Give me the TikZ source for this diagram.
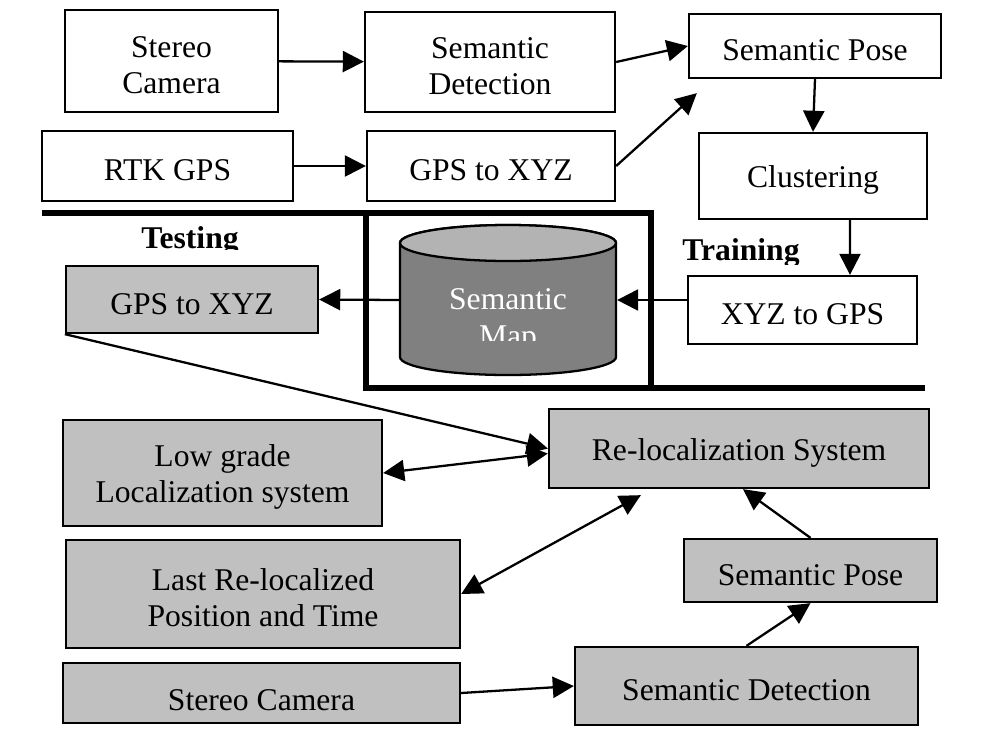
\documentclass[tikz,border=0pt]{standalone}
\usepackage{fontspec}
\setmainfont{Liberation Serif}
\usetikzlibrary{arrows.meta,calc}
\definecolor{boxgray}{HTML}{C0C0C0}
\definecolor{mapbody}{HTML}{808080}
\definecolor{maptop}{HTML}{B3B3B3}

\begin{document}
\begin{tikzpicture}[x=0.2mm, y=-0.2mm, line width=1.3pt,
	>={Triangle[length=12pt,width=12pt]},
	box/.style={draw, rectangle, line width=1.3pt, align=center, font=\fontsize{18}{20.5}\selectfont, text height=17pt},
	twoline/.style={text height=37pt},
	greybox/.style={box, fill=boxgray},
	label/.style={font=\fontsize{18}{20.5}\selectfont\bfseries, anchor=base},
	frame/.style={line width=3.8pt}]
	\useasboundingbox (0,0) rectangle (981,745);

	\node[box, twoline] (cam1) at (171.5,61) [minimum width=42.6mm, minimum height=20.4mm] {Stereo\\Camera};
	\node[box, twoline] (det1) at (490,62) [minimum width=50mm, minimum height=20mm] {Semantic\\Detection};
	\node[box] (pose1) at (815,46) [minimum width=50.4mm, minimum height=12.8mm] {Semantic Pose};
	\node[box] (rtk) at (167.5,166) [minimum width=50.2mm, minimum height=14mm] {RTK GPS};
	\node[box] (gxyz1) at (491,166) [minimum width=49.6mm, minimum height=14mm] {GPS to XYZ};
	\node[box] (clus) at (813,176) [minimum width=45.6mm, minimum height=17.2mm] {Clustering};
	\node[box] (xgps) at (802.5,310) [minimum width=45.8mm, minimum height=13.6mm] {XYZ to GPS};
	\node[greybox] (gxyz2) at (192,299.5) [minimum width=50.4mm, minimum height=13.4mm] {GPS to XYZ};

	\draw[frame] (42,213) -- (651,213) -- (651,388);
	\draw[frame] (366,213) -- (366,388) -- (925,388);

	\node[minimum width=43.2mm, minimum height=30mm] (map) at (508,300) {};
	\draw[fill=mapbody] (400,243) -- (400,357) arc[start angle=180, end angle=360, x radius=21.6mm, y radius=3.6mm] -- (616,243) arc[start angle=0, end angle=180, x radius=21.6mm, y radius=3.6mm];
	\draw[fill=maptop] (508,243) ellipse [x radius=21.6mm, y radius=3.6mm];
	\begin{scope}
		\clip (400,262) rectangle (616,340);
		\node[white, align=center, font=\fontsize{18}{21}\selectfont] (maptext) at (508,321) {Semantic\\Map};
	\end{scope}

	\begin{scope}
		\clip (100,220) rectangle (300,249);
		\node[label] (test) at (190,248) {Testing};
	\end{scope}
	\begin{scope}
		\clip (660,230) rectangle (820,264);
		\node[label] (train) at (741,260) {Training};
	\end{scope}

	\node[greybox] (reloc) at (739,448.5) [minimum width=76mm, minimum height=15.8mm] {Re-localization System};
	\node[greybox, twoline] (low) at (222.5,473) [minimum width=63.8mm, minimum height=21.2mm] {Low grade\\Localization system};
	\node[greybox, twoline] (last) at (263,594) [minimum width=78.8mm, minimum height=21.6mm] {Last Re-localized\\Position and Time};
	\node[greybox] (pose2) at (810.5,570.5) [minimum width=50.6mm, minimum height=12.6mm] {Semantic Pose};
	\node[greybox] (cam2) at (261.5,693) [minimum width=79.4mm, minimum height=12mm, text height=20pt] {Stereo Camera};
	\node[greybox] (det2) at (746.5,686) [minimum width=68.6mm, minimum height=15.6mm] {Semantic Detection};

	\coordinate (posein) at ($(pose1.south west)+(9,14)$);
	\coordinate (relocin) at ($(reloc.south west)+(93,6)$);

	\draw [arrows=->] (cam1) -- (det1);
	\draw [arrows=->] (det1.east) -- (pose1.west);
	\draw [arrows=->] (rtk) -- (gxyz1);
	\draw [arrows=->] (gxyz1.east) -- (posein);
	\draw [arrows=->] (pose1.south) -- (clus.north);
	\draw [arrows=->] ($(clus.south)+(37,0)$) -- ($(xgps.north)+(47.5,0)$);
	\draw [arrows=->] (xgps.west |- map) -- (map.east);
	\draw [arrows=->] (map.west) -- (gxyz2.east);
	\draw [arrows=->] (gxyz2.south west) -- (reloc.west);
	\draw [arrows=<->] (low.east) -- ($(reloc.west)+(0,5)$);
	\draw [arrows=<->] (last.east) -- (relocin);
	\draw [arrows=->] (pose2.north) -- ($(reloc.south)+(4,0)$);
	\draw [arrows=->] (det2.north) -- (pose2.south);
	\draw [arrows=->] (cam2.east) -- (det2.west);
\end{tikzpicture}
\end{document}
